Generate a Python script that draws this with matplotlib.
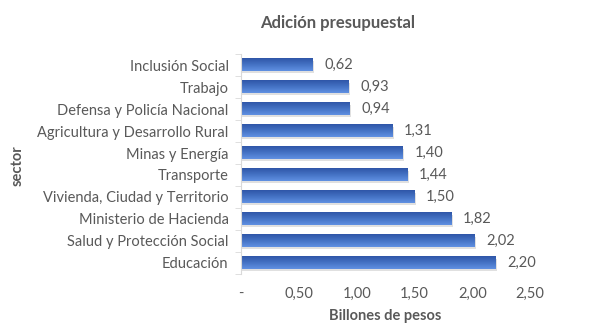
import matplotlib.pyplot as plt
import numpy as np
from matplotlib.colors import LinearSegmentedColormap
from matplotlib.patches import Rectangle
from matplotlib.ticker import FixedLocator

sectors = ["Educación", "Salud y Protección Social", "Ministerio de Hacienda",
           "Vivienda, Ciudad y Territorio", "Transporte", "Minas y Energía",
           "Agricultura y Desarrollo Rural", "Defensa y Policía Nacional",
           "Trabajo", "Inclusión Social"]
values = [2.20, 2.02, 1.82, 1.50, 1.44, 1.40, 1.31, 0.94, 0.93, 0.62]
xticks = [0, 0.5, 1.0, 1.5, 2.0, 2.5]
xticklabels = ["-", "0,50", "1,00", "1,50", "2,00", "2,50"]

plt.rcParams['font.family'] = ['Lato', 'DejaVu Sans']
gray = '#595959'

fig = plt.figure(figsize=(6.01, 3.32), dpi=100)
ax = fig.add_axes([0.401, 0.175, 0.481, 0.662])

# gradient fill like the Excel bars: lighter top, darker bottom
cmap = LinearSegmentedColormap.from_list('bar', ['#6090e2', '#4472c4', '#2f56a8'])
grad = np.linspace(0, 1, 64).reshape(-1, 1)
h = 0.55
y = np.arange(len(sectors))

for yi, v in zip(y, values):
    # soft shadow
    ax.add_patch(Rectangle((0.01, yi - h / 2 - 0.08), v, h, color='#000000',
                           alpha=0.12, lw=0, zorder=1))
    ax.imshow(grad, cmap=cmap, aspect='auto', zorder=2,
              extent=[0, v, yi + h / 2, yi - h / 2])
    ax.text(v + 0.1, yi, f"{v:.2f}".replace('.', ','), va='center', ha='left',
            fontsize=10.5, color=gray)

ax.set_xlim(0, 2.5)
ax.set_ylim(-0.5, len(sectors) - 0.5)
ax.set_yticks(y)
ax.set_yticklabels(sectors, fontsize=10.5, color=gray)
ax.yaxis.set_minor_locator(FixedLocator(np.arange(-0.5, len(sectors), 1)))
ax.tick_params(axis='y', which='major', length=0, pad=9)
ax.tick_params(axis='y', which='minor', length=4, color='#d9d9d9')
ax.set_xticks(xticks)
ax.set_xticklabels(xticklabels, fontsize=10.5, color=gray)
ax.tick_params(axis='x', length=0, pad=9)

for s in ['top', 'right', 'bottom']:
    ax.spines[s].set_visible(False)
ax.spines['left'].set_color('#d9d9d9')

ax.set_xlabel("Billones de pesos", fontsize=10.5, fontweight='bold', color=gray, labelpad=6)
fig.text(0.03, 0.5, "sector", rotation=90, fontsize=10.5, fontweight='bold',
         color=gray, va='center', ha='center')
fig.text(0.562, 0.93, "Adición presupuestal", fontsize=12, fontweight='bold',
         color=gray, ha='center', va='center')

fig.savefig('out.png', dpi=100)
